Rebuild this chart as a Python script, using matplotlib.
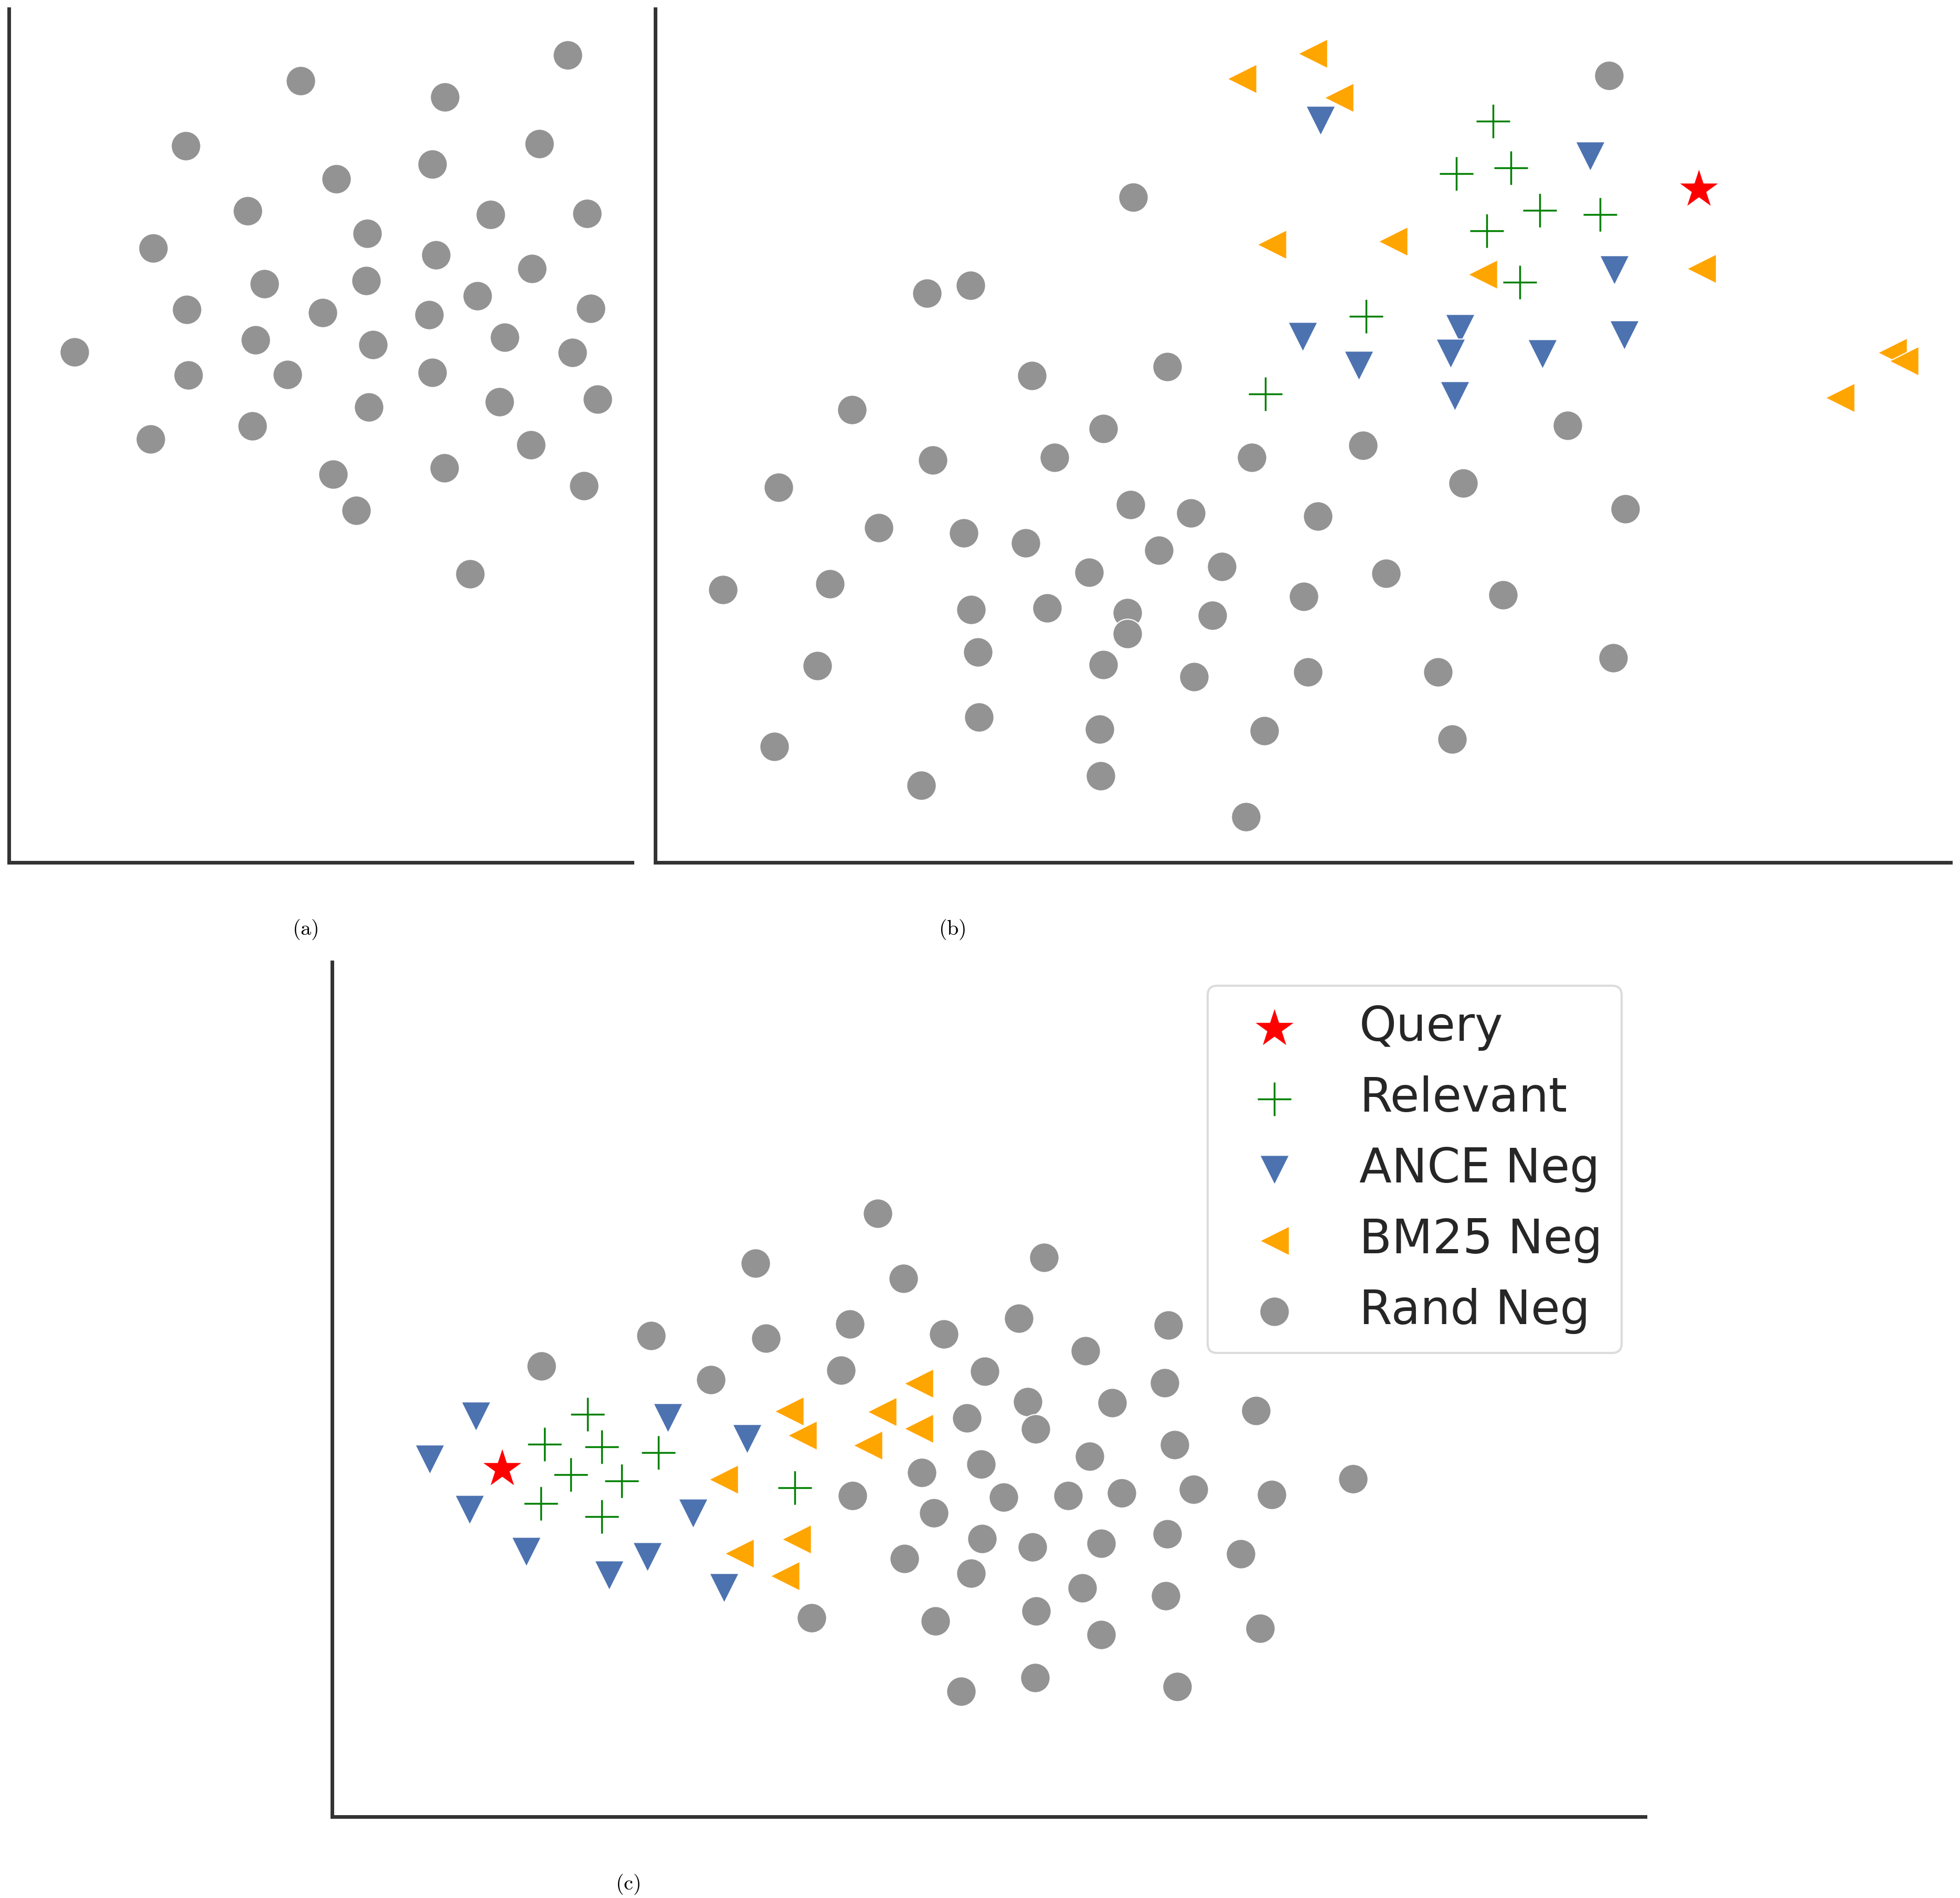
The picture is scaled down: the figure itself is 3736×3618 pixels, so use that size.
import matplotlib
matplotlib.use('Agg')
import matplotlib.pyplot as plt

W, H = 3736, 3618
DPI = 100
plt.rcParams['mathtext.fontset'] = 'cm'
plt.rcParams['font.family'] = ['DejaVu Sans']

# ---------------- data ----------------
# panel (a): only random negatives
a_rand_x = [1065, 556, 831, 337, 1011, 624, 807, 455, 918, 1102, 275, 683, 814, 997, 487, 681, 339, 598, 801, 893,
            1109, 470, 694, 945, 125, 1074, 342, 531, 807, 686, 935, 1122, 270, 464, 995, 618, 830, 1096, 662, 879]
a_rand_y = [1537, 1488, 1457, 1364, 1368, 1301, 1329, 1240, 1233, 1235, 1169, 1197, 1156, 1130, 1101, 1107, 1052, 1046, 1042, 1078,
            1054, 994, 985, 999, 971, 970, 927, 928, 932, 866, 876, 881, 805, 830, 794, 738, 750, 716, 669, 548]

# panel (b)
b_query_x = [1989]
b_query_y = [1281]
b_rel_x = [1597, 1527, 1631, 1686, 1801, 1585, 1648, 1355, 1163]
b_rel_y = [1411, 1311, 1322, 1241, 1233, 1202, 1104, 1039, 891]
b_ance_x = [1268, 1782, 1828, 1534, 1516, 1234, 1341, 1691, 1847, 1524]
b_ance_y = [1412, 1344, 1127, 1015, 968, 1000, 945, 967, 1003, 887]
b_bm25_x = [1118, 1253, 1303, 1175, 1406, 1577, 1994, 2358, 2380, 2258]
b_bm25_y = [1492, 1540, 1456, 1176, 1182, 1119, 1130, 970, 954, 884]
b_rand_x = [1818, 911, 518, 601, 718, 976, 375, 854, 1739, 529, 761, 1137, 1349, 235, 1540, 906, 1021, 1263, 1849, 426,
            588, 706, 960, 827, 1080, 1393, 129, 333, 1616, 602, 747, 900, 1062, 1236, 900, 309, 615, 854, 1027, 1244,
            1492, 1826, 617, 847, 1161, 1519, 227, 849, 507, 1126]
b_rand_y = [1498, 1266, 1083, 1098, 926, 943, 861, 825, 831, 765, 770, 770, 793, 713, 721, 680, 664, 658, 672, 636,
            626, 607, 593, 551, 562, 549, 518, 529, 508, 480, 483, 474, 469, 505, 434, 373, 399, 375, 352, 361,
            361, 388, 275, 252, 249, 233, 219, 163, 145, 85]

# panel (c)
c_query_x = [324]
c_query_y = [663]
c_rel_x = [487, 405, 514, 622, 455, 552, 398, 514, 882]
c_rel_y = [767, 710, 705, 694, 652, 640, 597, 572, 627]
c_ance_x = [274, 186, 262, 370, 528, 601, 640, 791, 688, 747]
c_ance_y = [763, 681, 585, 505, 460, 495, 760, 720, 578, 436]
c_bm25_x = [871, 896, 1048, 1118, 1118, 1021, 746, 885, 776, 863]
c_bm25_y = [773, 727, 772, 826, 740, 708, 643, 529, 502, 459]
c_rand_x = [1040, 807, 608, 827, 987, 399, 722, 970, 992, 914, 1089, 1357, 1166, 1309, 1594, 1436, 1244, 1587, 1326, 1487,
            1761, 1210, 1341, 1606, 1444, 1124, 1237, 1280, 1403, 1505, 1642, 1791, 1946, 1147, 1239, 1335, 1466, 1592, 1732, 1091,
            1218, 1430, 1589, 1150, 1342, 1466, 1769, 1199, 1340, 1611]
c_rand_y = [1150, 1055, 917, 912, 939, 859, 833, 851, 612, 379, 1026, 1066, 920, 950, 937, 888, 849, 827, 791, 789,
            774, 760, 739, 709, 687, 656, 672, 609, 612, 617, 624, 614, 644, 579, 530, 514, 521, 539, 501, 492,
            464, 436, 421, 373, 392, 347, 359, 239, 265, 248]

labels = ['Query', 'Relevant', 'ANCE Neg', 'BM25 Neg', 'Rand Neg']
panel_labels = ['(a)', '(b)', '(c)']

# ---------------- style ----------------
GRAY = '#939393'
BLUE = '#4C72B0'
ORANGE = '#FFA500'
GREEN = '#008000'
RED = '#FF0000'
SPINE = '#333333'
S_DOT = 1650
S_PLUS = 2120
S_STAR = 3540
EDGE_LW = 1.5

fig = plt.figure(figsize=(W / DPI, H / DPI), dpi=DPI)


def make_axes(left, right, top, bottom, xlim, ylim):
    ax = fig.add_axes([left / W, 1 - bottom / H, (right - left) / W, (bottom - top) / H])
    ax.set_xlim(*xlim)
    ax.set_ylim(*ylim)
    ax.set_xticks([])
    ax.set_yticks([])
    for side in ['top', 'right']:
        ax.spines[side].set_visible(False)
    for side in ['left', 'bottom']:
        ax.spines[side].set_linewidth(5.0)
        ax.spines[side].set_color(SPINE)
    ax.set_facecolor('white')
    return ax


def draw_all(ax, qx, qy, rx, ry, ax_, ay_, bx, by, nx, ny):
    ax.scatter(qx, qy, marker='*', s=S_STAR, color=RED, edgecolor='white', linewidth=EDGE_LW, label=labels[0], zorder=3)
    ax.scatter(rx, ry, marker='+', s=S_PLUS, color=GREEN, linewidth=2.5, label=labels[1], zorder=3)
    ax.scatter(ax_, ay_, marker='v', s=S_DOT, color=BLUE, edgecolor='white', linewidth=EDGE_LW, label=labels[2], zorder=3)
    ax.scatter(bx, by, marker='<', s=S_DOT, color=ORANGE, edgecolor='white', linewidth=EDGE_LW, label=labels[3], zorder=3)
    ax.scatter(nx, ny, marker='o', s=S_DOT, color=GRAY, edgecolor='white', linewidth=EDGE_LW, label=labels[4], zorder=3)


# panel (a)
ax_a = make_axes(16.6, 1205, 16.5, 1643.5, (0, 1188.4), (-1.5, 1625.5))
ax_a.scatter(a_rand_x, a_rand_y, marker='o', s=S_DOT, color=GRAY, edgecolor='white', linewidth=EDGE_LW, zorder=3)

# panel (b)
ax_b = make_axes(1249, 3718, 16.5, 1643.5, (0, 2469), (-1.5, 1625.5))
draw_all(ax_b, b_query_x, b_query_y, b_rel_x, b_rel_y, b_ance_x, b_ance_y,
         b_bm25_x, b_bm25_y, b_rand_x, b_rand_y)

# panel (c)
ax_c = make_axes(632.5, 3136, 1834, 3462.5, (0, 2503.5), (0, 1628.5))
draw_all(ax_c, c_query_x, c_query_y, c_rel_x, c_rel_y, c_ance_x, c_ance_y,
         c_bm25_x, c_bm25_y, c_rand_x, c_rand_y)
leg = ax_c.legend(loc='upper right', fontsize=65, frameon=True, fancybox=True,
                  labelspacing=0.52, borderpad=0.4, handlelength=2.0, handletextpad=0.8,
                  borderaxespad=0.5, framealpha=1.0)
leg.get_frame().set_edgecolor('#dcdcdc')
leg.get_frame().set_linewidth(3.0)
for t in leg.get_texts():
    t.set_color('#262626')

# sub-figure captions
for (cx, cy), lab in zip([(582, 1772), (1815, 1772), (1197, 3592)], panel_labels):
    fig.text(cx / W, 1 - cy / H, r'$\mathrm{' + lab + '}$', ha='center', va='center', fontsize=29, color='black')

fig.savefig('out.png', dpi=DPI, facecolor='white')
